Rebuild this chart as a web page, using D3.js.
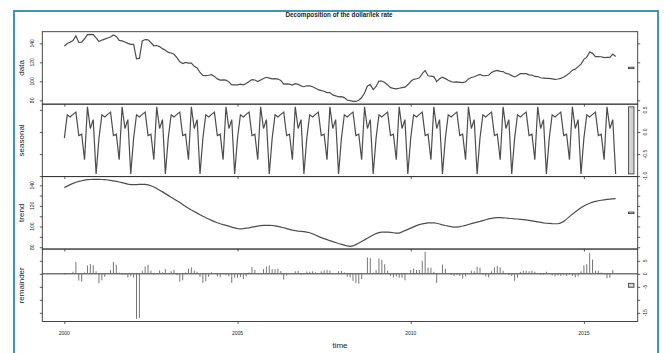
<!DOCTYPE html>
<html><head><meta charset="utf-8">
<script src="https://cdn.jsdelivr.net/npm/d3@7"></script>
<style>body{margin:0;background:#fff}svg{display:block}text{font-family:"Liberation Sans",Arial,sans-serif;fill:#222}</style>
</head><body>
<svg id="c" width="664" height="353"></svg>
<script>
// ---- data (monthly, Jan 2000 .. Dec 2015) ----
const startYear = 2000;
const frequency = 12;
const seasonalPattern = [-0.14, 0.39, 0.34, 0.40, 0.45, -0.08, -0.05, -0.63, 0.57, 0.08, 0.28, -0.95];
const rate = [
137.26,139.89,141.24,143.0,147.95,141.02,141.35,144.87,149.17,149.48,149.28,145.85,
142.06,143.49,144.54,145.7,146.65,148.82,147.25,143.07,142.67,141.48,139.98,138.95,
138.96,123.79,124.24,142.6,144.05,143.72,140.65,137.47,137.77,136.58,134.48,132.75,
130.46,129.89,128.54,124.9,120.65,118.82,119.95,119.17,119.17,115.78,114.08,109.35,
106.36,106.09,106.44,107.0,105.25,102.62,101.35,101.47,101.27,99.48,96.28,96.25,
96.36,96.99,96.34,97.8,99.75,101.92,101.45,99.87,101.47,102.98,104.28,103.45,
102.66,102.79,102.44,101.0,97.05,97.32,97.15,96.17,97.57,96.88,95.28,94.35,
95.36,95.19,94.34,92.8,91.25,90.22,89.55,88.17,88.17,85.78,84.78,83.65,
83.86,82.89,80.34,79.8,78.95,78.82,80.15,82.97,87.67,95.08,96.58,91.35,
94.56,100.39,100.34,98.8,96.25,93.42,92.55,92.07,92.77,93.38,93.88,96.35,
99.86,102.09,102.74,103.8,108.05,111.52,105.85,105.47,104.97,99.78,102.78,104.35,
102.86,101.09,99.74,99.1,99.45,99.02,98.65,99.57,102.57,104.08,104.88,106.15,
107.26,105.89,105.94,106.4,109.45,110.82,111.55,110.47,110.27,108.38,107.78,106.05,
104.66,106.19,108.14,108.3,108.05,106.92,106.65,105.17,105.07,103.78,103.48,103.05,
103.16,102.59,102.04,102.5,103.15,104.52,106.35,108.67,111.77,112.88,115.48,118.15,
123.16,125.49,130.94,129.5,126.05,126.12,125.95,124.97,125.17,125.18,128.68,126.15];
const trend = [
137.7,139.2,140.6,141.8,142.9,143.7,144.4,145.0,145.4,145.6,145.7,145.8,
145.8,145.6,145.4,145.1,144.7,144.3,143.8,143.2,142.5,141.8,141.1,140.7,
140.6,140.7,140.9,141.0,140.8,140.3,139.5,138.4,136.9,135.2,133.6,131.9,
130.2,128.5,126.7,125.0,123.2,121.4,119.5,117.8,116.1,114.5,113.0,111.5,
110.0,108.6,107.3,106.0,104.8,103.7,102.7,101.9,101.2,100.4,99.5,98.7,
98.0,97.8,98.0,98.4,98.8,99.4,100.0,100.5,100.9,101.1,101.2,101.2,
101.0,100.6,100.1,99.5,98.8,98.0,97.2,96.5,96.0,95.6,95.3,95.0,
94.6,94.0,93.0,91.8,90.5,89.3,88.3,87.3,86.3,85.4,84.5,83.6,
82.8,82.0,81.2,80.8,81.2,82.5,84.0,85.6,87.1,88.7,90.3,91.8,
93.2,94.1,94.6,94.7,94.6,94.3,94.0,93.7,93.7,94.8,96.1,97.3,
98.5,99.7,100.9,101.9,102.6,103.1,103.5,103.7,103.6,103.2,102.5,101.7,
101.0,100.4,99.9,99.5,99.5,99.9,100.5,101.2,102.0,102.8,103.6,104.3,
105.0,105.8,106.6,107.4,108.0,108.4,108.6,108.6,108.5,108.3,108.0,107.8,
107.5,107.3,107.0,106.7,106.4,106.0,105.5,105.0,104.5,104.0,103.5,103.2,
103.0,102.8,102.7,102.7,103.5,105.0,107.2,109.6,112.0,114.2,116.2,118.1,
120.0,121.4,122.6,123.6,124.4,125.0,125.5,125.9,126.3,126.6,126.9,127.1];
const remainder = [
-0.3,0.3,0.3,0.8,4.6,-2.6,-3.0,0.5,3.2,3.8,3.3,1.0,
-3.6,-2.5,-1.2,0.2,1.5,4.6,3.5,0.5,-0.4,-0.4,-1.4,-0.8,
-1.5,-17.3,-17.0,1.2,2.8,3.5,1.2,-0.3,0.3,1.3,0.6,1.8,
0.4,1.0,1.5,-0.5,-3.0,-2.5,0.5,2.0,2.5,1.2,0.8,-1.2,
-3.5,-2.9,-1.2,0.6,0.0,-1.0,-1.3,0.2,-0.5,-1.0,-3.5,-1.5,
-1.5,-1.2,-2.0,-1.0,0.5,2.6,1.5,0.0,0.0,1.8,2.8,3.2,
1.8,1.8,2.0,1.1,-2.2,-0.6,0.0,0.3,1.0,1.2,-0.3,0.3,
0.9,0.8,1.0,0.6,0.3,1.0,1.3,1.5,1.3,0.3,0.0,1.0,
1.2,0.5,-1.2,-1.4,-2.7,-3.6,-3.8,-2.0,0.0,6.3,6.0,0.5,
1.5,5.9,5.4,3.7,1.2,-0.8,-1.4,-1.0,-1.5,-1.5,-2.5,0.0,
1.5,2.0,1.5,1.5,5.0,8.5,2.4,2.4,0.8,-3.5,0.0,3.6,
2.0,0.3,-0.5,-0.8,-0.5,-0.8,-1.8,-1.0,0.0,1.2,1.0,2.8,
2.4,-0.3,-1.0,-1.4,1.0,2.5,3.0,2.5,1.2,0.0,-0.5,-0.8,
-2.7,-1.5,0.8,1.2,1.2,1.0,1.2,0.8,0.0,-0.3,-0.3,0.8,
0.3,-0.6,-1.0,-0.6,-0.8,-0.4,-0.8,-0.3,-0.8,-1.4,-1.0,1.0,
3.3,3.7,8.0,5.5,1.2,1.2,0.5,-0.3,-1.7,-1.5,1.5,0.0];
const seasonal = rate.map((_, i) => seasonalPattern[i % frequency]);

const xTicks = [2000, 2005, 2010, 2015];
const dataTicks = [80, 100, 120, 140];
const seasonalTicks = [-1.0, -0.5, 0.0, 0.5];
const trendTicks = [80, 90, 100, 110, 120, 130, 140];
const trendLabels = [80, 100, 120, 140];
const remainderTicks = [-15, -10, -5, 0, 5];
const remainderLabels = [-15, -5, 0, 5];
const title = "Decomposition of the dollar/lek rate";

// ---- layout ----
const svg = d3.select("#c");
const L = 42.3, R = 637.7, TOP = 31.7, PH = 72.45;
const times = rate.map((_, i) => startYear + i / frequency);
const tExt = d3.extent(times), tPad = 0.04 * (tExt[1] - tExt[0]);
const x = d3.scaleLinear().domain([tExt[0] - tPad, tExt[1] + tPad]).range([L, R]);

svg.append("rect").attr("x", 14).attr("y", 11).attr("width", 644).attr("height", 352)
  .attr("fill", "none").attr("stroke", "#3d96b8").attr("stroke-width", 2);

const panels = [
  {name: "data", values: rate, ticks: dataTicks, labels: dataTicks, side: "left", fmt: String},
  {name: "seasonal", values: seasonal, ticks: seasonalTicks, labels: seasonalTicks, side: "right", fmt: v => v.toFixed(1)},
  {name: "trend", values: trend, ticks: trendTicks, labels: trendLabels, side: "left", fmt: String},
  {name: "remainder", values: remainder, ticks: remainderTicks, labels: remainderLabels, side: "right", fmt: String, bars: true}
];
const minRange = d3.min(panels, p => { const e = d3.extent(p.values); return e[1] - e[0]; });
const ux = x.domain(), dx = (ux[1] - ux[0]) / 64;

panels.forEach((p, k) => {
  const y0 = TOP + k * PH;
  const e = d3.extent(p.values), r = e[1] - e[0];
  const y = d3.scaleLinear().domain([e[0] - 0.04 * r, e[1] + 0.04 * r]).range([y0 + PH, y0]);
  const g = svg.append("g");
  const pts = p.values.map((v, i) => ({t: times[i], v}));
  const ink = "#4d4d4d";
  if (p.bars) {
    g.append("line").attr("x1", L).attr("x2", R).attr("y1", y(0)).attr("y2", y(0))
      .attr("stroke", "#333").attr("stroke-width", 1);
    g.selectAll("line.bar").data(pts).join("line").attr("class", "bar")
      .attr("x1", d => x(d.t)).attr("x2", d => x(d.t))
      .attr("y1", y(0)).attr("y2", d => y(d.v))
      .attr("stroke", "#666").attr("stroke-width", 0.9);
  } else {
    g.append("path").datum(pts)
      .attr("d", d3.line().x(d => x(d.t)).y(d => y(d.v)))
      .attr("fill", "none").attr("stroke", ink).attr("stroke-width", 1.2);
  }
  // box
  g.append("rect").attr("x", L).attr("y", y0).attr("width", R - L).attr("height", PH)
    .attr("fill", "none").attr("stroke", "#333").attr("stroke-width", 0.9);
  // axes
  const styleAxis = a => { a.select(".domain").remove(); a.selectAll(".tick line").attr("stroke", "#333").attr("stroke-width", 0.8); };
  svg.append("g").attr("transform", `translate(${L},0)`)
    .call(d3.axisLeft(y).tickValues(p.ticks).tickSize(2.5).tickFormat("")).call(styleAxis);
  svg.append("g").attr("transform", `translate(${R},0)`)
    .call(d3.axisRight(y).tickValues(p.ticks).tickSize(2.5).tickFormat("")).call(styleAxis);
  svg.append("g").attr("transform", `translate(0,${y0 + PH})`)
    .call(d3.axisBottom(x).tickValues(xTicks).tickSize(2.5).tickFormat("")).call(styleAxis);
  // tick labels (rotated, parallel to axis)
  const lx = p.side === "left" ? 34 : 647.2;
  p.labels.forEach(v => {
    svg.append("text").attr("x", lx).attr("y", y(v))
      .attr("transform", `rotate(-90,${lx},${y(v)})`)
      .attr("text-anchor", "middle").attr("font-size", 5).text(p.fmt(v));
  });
  // range bar
  const mid = (e[0] + e[1]) / 2;
  svg.append("rect")
    .attr("x", x(ux[1] - dx)).attr("width", x(ux[1] - 0.4 * dx) - x(ux[1] - dx))
    .attr("y", y(mid + minRange / 2)).attr("height", y(mid - minRange / 2) - y(mid + minRange / 2))
    .attr("fill", "#d3d3d3").attr("stroke", "#333").attr("stroke-width", 0.8);
  // panel label
  svg.append("text").attr("x", 24).attr("y", y0 + PH / 2)
    .attr("transform", `rotate(-90,24,${y0 + PH / 2})`)
    .attr("text-anchor", "middle").attr("font-size", 8).text(p.name);
  if (k === panels.length - 1) {
    xTicks.forEach(t => {
      svg.append("text").attr("x", x(t)).attr("y", y0 + PH + 13.3)
        .attr("text-anchor", "middle").attr("font-size", 5).text(t);
    });
  }
});

svg.append("text").attr("x", 340).attr("y", 347.5).attr("text-anchor", "middle")
  .attr("font-size", 8).text("time");
svg.append("text").attr("x", 339).attr("y", 17.2).attr("text-anchor", "middle")
  .attr("font-size", 6.3).attr("font-weight", "bold").text(title);
</script>
</body></html>
